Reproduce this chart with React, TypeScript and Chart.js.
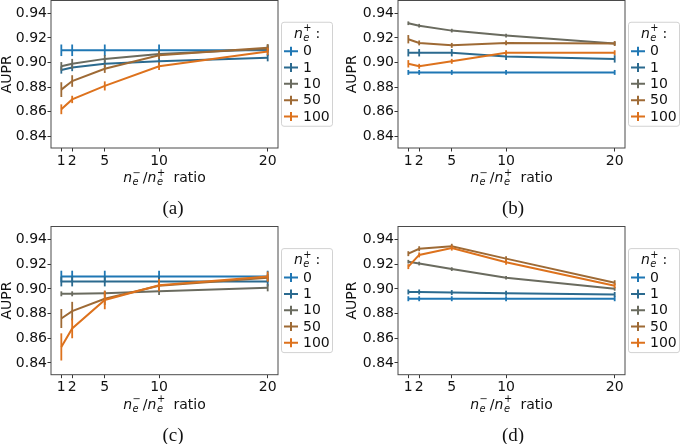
import React, { useEffect, useRef } from "react";
import { Chart, registerables } from "chart.js";

Chart.register(...registerables);

// ---------- data ----------
const xRatios = [1, 2, 5, 10, 20];
const xTickValues = [1, 2, 5, 10, 20];
const yTickValues = [0.84, 0.86, 0.88, 0.9, 0.92, 0.94];
const seriesLabels = ["0", "1", "10", "50", "100"];
const panelCaptions = ["(a)", "(b)", "(c)", "(d)"];

// panel (a)
const a0 = [0.910, 0.910, 0.910, 0.910, 0.910];
const a1 = [0.894, 0.896, 0.899, 0.901, 0.904];
const a10 = [0.897, 0.899, 0.903, 0.907, 0.911];
const a50 = [0.878, 0.885, 0.895, 0.906, 0.912];
const a100 = [0.862, 0.870, 0.881, 0.897, 0.909];
const a0Err = [0.0047, 0.0047, 0.0047, 0.0047, 0.0047];
const a1Err = [0.003, 0.003, 0.003, 0.003, 0.003];
const a10Err = [0.0034, 0.004, 0.003, 0.003, 0.003];
const a50Err = [0.006, 0.0047, 0.0034, 0.003, 0.003];
const a100Err = [0.004, 0.003, 0.0037, 0.003, 0.003];

// panel (b)
const b0 = [0.892, 0.892, 0.892, 0.892, 0.892];
const b1 = [0.908, 0.908, 0.908, 0.905, 0.903];
const b10 = [0.932, 0.930, 0.926, 0.922, 0.9155];
const b50 = [0.919, 0.916, 0.914, 0.916, 0.9155];
const b100 = [0.899, 0.897, 0.901, 0.908, 0.908];
const b0Err = [0.002, 0.002, 0.002, 0.002, 0.002];
const b1Err = [0.003, 0.003, 0.003, 0.003, 0.003];
const b10Err = [0.0015, 0.0015, 0.0015, 0.0015, 0.0015];
const b50Err = [0.0034, 0.002, 0.002, 0.002, 0.002];
const b100Err = [0.003, 0.002, 0.002, 0.002, 0.002];

// panel (c)
const c0 = [0.910, 0.910, 0.910, 0.910, 0.910];
const c1 = [0.906, 0.906, 0.906, 0.906, 0.906];
const c10 = [0.896, 0.896, 0.8965, 0.898, 0.901];
const c50 = [0.876, 0.882, 0.892, 0.9025, 0.909];
const c100 = [0.853, 0.868, 0.891, 0.903, 0.910];
const c0Err = [0.0047, 0.0047, 0.0047, 0.0047, 0.0047];
const c1Err = [0.004, 0.004, 0.004, 0.004, 0.004];
const c10Err = [0.002, 0.002, 0.002, 0.003, 0.003];
const c50Err = [0.0077, 0.0075, 0.005, 0.004, 0.003];
const c100Err = [0.011, 0.008, 0.0075, 0.005, 0.004];

// panel (d)
const d0 = [0.892, 0.892, 0.892, 0.892, 0.892];
const d1 = [0.8975, 0.8975, 0.897, 0.8965, 0.8955];
const d10 = [0.922, 0.9205, 0.916, 0.909, 0.900];
const d50 = [0.9285, 0.9325, 0.9345, 0.9245, 0.905];
const d100 = [0.918, 0.9275, 0.933, 0.9215, 0.9025];
const d0Err = [0.002, 0.002, 0.002, 0.002, 0.002];
const d1Err = [0.002, 0.002, 0.002, 0.002, 0.002];
const d10Err = [0.0015, 0.0015, 0.0015, 0.0015, 0.0015];
const d50Err = [0.002, 0.002, 0.002, 0.002, 0.002];
const d100Err = [0.002, 0.002, 0.002, 0.002, 0.002];

const panelValues = [
  [a0, a1, a10, a50, a100],
  [b0, b1, b10, b50, b100],
  [c0, c1, c10, c50, c100],
  [d0, d1, d10, d50, d100],
];
const panelErrors = [
  [a0Err, a1Err, a10Err, a50Err, a100Err],
  [b0Err, b1Err, b10Err, b50Err, b100Err],
  [c0Err, c1Err, c10Err, c50Err, c100Err],
  [d0Err, d1Err, d10Err, d50Err, d100Err],
];

// ---------- styles / layout ----------
const seriesColors = ["#1f77b4", "#2b6a8f", "#6a6b5f", "#9e6a35", "#dd721d"];
const FONT = "'DejaVu Sans', sans-serif";
const FS = 14;
const TEXT = "#111";
const CW = 340;
const CH = 222;

const placements = [
  { x: 0, y: 0, area: { left: 51, right: 278, top: 0.5, bottom: 148 }, yTitlePad: -1.5 },
  { x: 340, y: 0, area: { left: 58, right: 285, top: 0.5, bottom: 148 }, yTitlePad: 4 },
  { x: 0, y: 222, area: { left: 51, right: 278, top: 4.5, bottom: 152.7 }, yTitlePad: -1.5 },
  { x: 340, y: 222, area: { left: 58, right: 285, top: 4.5, bottom: 152.7 }, yTitlePad: 4 },
];

type MathPart = { text: string; italic?: boolean; sub?: string; sup?: string; gap?: number };

const xTitleParts: MathPart[] = [
  { text: "n", italic: true, sub: "e", sup: "\u2212", gap: 2.5 },
  { text: "/" },
  { text: "n", italic: true, sub: "e", sup: "+" },
  { text: "  ratio" },
];
const legendTitleParts: MathPart[] = [
  { text: "n", italic: true, sub: "e", sup: "+" },
  { text: " :" },
];

function setFont(ctx: CanvasRenderingContext2D, size: number, italic?: boolean) {
  ctx.font = `${italic ? "italic " : ""}${size}px ${FONT}`;
}

function mathWidth(ctx: CanvasRenderingContext2D, parts: MathPart[], size: number) {
  let w = 0;
  const small = size * 0.7;
  for (const p of parts) {
    setFont(ctx, size, p.italic);
    w += ctx.measureText(p.text).width;
    let sw = 0;
    if (p.sub) {
      setFont(ctx, small, true);
      sw = Math.max(sw, ctx.measureText(p.sub).width);
    }
    if (p.sup) {
      setFont(ctx, small, false);
      sw = Math.max(sw, ctx.measureText(p.sup).width);
    }
    w += sw + (p.gap || 0);
  }
  return w;
}

function drawMath(ctx: CanvasRenderingContext2D, parts: MathPart[], cx: number, cy: number, size: number) {
  const small = size * 0.7;
  const total = mathWidth(ctx, parts, size);
  let x = cx - total / 2;
  const base = cy + size * 0.36;
  ctx.save();
  ctx.fillStyle = TEXT;
  ctx.textAlign = "left";
  ctx.textBaseline = "alphabetic";
  for (const p of parts) {
    setFont(ctx, size, p.italic);
    ctx.fillText(p.text, x, base);
    x += ctx.measureText(p.text).width;
    let sw = 0;
    if (p.sub) {
      setFont(ctx, small, true);
      ctx.fillText(p.sub, x + 0.5, base + size * 0.22);
      sw = Math.max(sw, ctx.measureText(p.sub).width);
    }
    if (p.sup) {
      setFont(ctx, small, false);
      ctx.fillText(p.sup, x + 0.5, base - size * 0.45);
      sw = Math.max(sw, ctx.measureText(p.sup).width);
    }
    x += sw + (p.gap || 0);
  }
  ctx.restore();
}

function makeDecor(idx: number) {
  return {
    id: "decor" + idx,
    afterDatasetDraw(chart: any, args: any) {
      const i = args.index;
      const errs = panelErrors[idx][i];
      const vals = panelValues[idx][i];
      const ys = chart.scales.y;
      const xs = chart.scales.x;
      const ctx: CanvasRenderingContext2D = chart.ctx;
      ctx.save();
      ctx.strokeStyle = seriesColors[i];
      ctx.lineWidth = 1.8;
      xRatios.forEach((xv, j) => {
        const px = xs.getPixelForValue(xv);
        const y1 = ys.getPixelForValue(vals[j] - errs[j]);
        const y2 = ys.getPixelForValue(vals[j] + errs[j]);
        ctx.beginPath();
        ctx.moveTo(px, y1);
        ctx.lineTo(px, y2);
        ctx.stroke();
      });
      ctx.restore();
    },
    afterDraw(chart: any) {
      const ctx: CanvasRenderingContext2D = chart.ctx;
      const ca = chart.chartArea;
      // frame
      ctx.save();
      ctx.strokeStyle = "#4a4a4a";
      ctx.lineWidth = 1;
      ctx.strokeRect(ca.left, ca.top, ca.right - ca.left, ca.bottom - ca.top);
      ctx.restore();

      // legend
      const bw = 51;
      const bh = 104;
      const bx = ca.right + 3.5;
      const by = (ca.top + ca.bottom) / 2 - bh / 2;
      ctx.save();
      ctx.fillStyle = "rgba(255,255,255,0.9)";
      ctx.strokeStyle = "#d2d2d2";
      ctx.lineWidth = 1;
      ctx.beginPath();
      (ctx as any).roundRect(bx, by, bw, bh, 2.5);
      ctx.fill();
      ctx.stroke();
      ctx.restore();
      drawMath(ctx, legendTitleParts, bx + bw / 2, by + 10.5, FS);
      seriesLabels.forEach((lab, i) => {
        const y = by + 29 + i * 16.3;
        ctx.save();
        ctx.strokeStyle = seriesColors[i];
        ctx.lineWidth = 2;
        ctx.beginPath();
        ctx.moveTo(bx + 2.5, y);
        ctx.lineTo(bx + 16.5, y);
        ctx.moveTo(bx + 9.5, y - 4.5);
        ctx.lineTo(bx + 9.5, y + 4.5);
        ctx.stroke();
        ctx.fillStyle = TEXT;
        setFont(ctx, FS);
        ctx.textAlign = "left";
        ctx.textBaseline = "middle";
        ctx.fillText(lab, bx + 21.5, y + 0.5);
        ctx.restore();
      });

      // x-axis title
      drawMath(ctx, xTitleParts, (ca.left + ca.right) / 2, ca.bottom + 29, FS);

      // caption
      ctx.save();
      ctx.fillStyle = TEXT;
      ctx.font = `19px 'Liberation Serif', 'DejaVu Serif', serif`;
      ctx.textAlign = "center";
      ctx.textBaseline = "middle";
      ctx.fillText(panelCaptions[idx], 173, ca.bottom + 61);
      ctx.restore();
    },
  };
}

function buildConfig(idx: number): any {
  const pl = placements[idx];
  const area = pl.area;
  const xAxisH = 30;
  const datasets = seriesLabels.map((lab, i) => ({
    label: lab,
    data: xRatios.map((x, j) => ({ x, y: panelValues[idx][i][j] })),
    borderColor: seriesColors[i],
    backgroundColor: seriesColors[i],
    borderWidth: 2,
    pointRadius: 0,
    pointHoverRadius: 0,
    tension: 0,
    fill: false,
    order: seriesLabels.length - 1 - i,
  }));
  const tickGrid = {
    drawOnChartArea: false,
    drawTicks: true,
    tickLength: 3.5,
    color: "#333",
    lineWidth: 1,
  };
  return {
    type: "line",
    data: { datasets },
    options: {
      responsive: false,
      animation: false,
      events: [],
      layout: {
        padding: {
          left: 0,
          top: area.top,
          right: CW - area.right,
          bottom: CH - area.bottom - xAxisH,
        },
      },
      plugins: {
        legend: { display: false },
        tooltip: { enabled: false },
        title: { display: false },
      },
      scales: {
        x: {
          type: "linear",
          min: 0.05,
          max: 20.95,
          afterBuildTicks: (s: any) => {
            s.ticks = xTickValues.map((v) => ({ value: v }));
          },
          afterFit: (s: any) => {
            s.height = xAxisH;
            s.paddingLeft = 0;
            s.paddingRight = 0;
            s.paddingTop = 0;
            s.paddingBottom = 0;
          },
          ticks: {
            font: { family: FONT, size: FS },
            color: TEXT,
            padding: 1,
            autoSkip: false,
            maxRotation: 0,
            minRotation: 0,
            callback: (v: any) => String(v),
          },
          grid: tickGrid,
          border: { display: false },
        },
        y: {
          type: "linear",
          min: 0.8305,
          max: 0.9505,
          afterBuildTicks: (s: any) => {
            s.ticks = yTickValues.map((v) => ({ value: v }));
          },
          afterFit: (s: any) => {
            s.width = area.left;
            s.paddingLeft = 0;
            s.paddingRight = 0;
            s.paddingTop = 0;
            s.paddingBottom = 0;
          },
          ticks: {
            font: { family: FONT, size: FS },
            color: TEXT,
            padding: 0.5,
            callback: (v: any) => Number(v).toFixed(2),
          },
          grid: tickGrid,
          border: { display: false },
          title: {
            display: true,
            text: "AUPR",
            font: { family: FONT, size: FS },
            color: TEXT,
            padding: { top: pl.yTitlePad, bottom: 0 },
          },
        },
      },
    },
    plugins: [makeDecor(idx)],
  };
}

function Panel({ idx }: { idx: number }) {
  const ref = useRef<HTMLCanvasElement>(null);
  useEffect(() => {
    if (!ref.current) return;
    const chart = new Chart(ref.current, buildConfig(idx));
    return () => chart.destroy();
  }, [idx]);
  const pl = placements[idx];
  return (
    <canvas
      ref={ref}
      width={CW}
      height={CH}
      style={{ position: "absolute", left: pl.x, top: pl.y, width: CW, height: CH }}
    />
  );
}

export default function App() {
  return (
    <div
      style={{
        position: "fixed",
        left: 0,
        top: 0,
        width: 680,
        height: 444,
        background: "#fff",
        overflow: "hidden",
      }}
    >
      {placements.map((_, k) => (
        <Panel key={k} idx={k} />
      ))}
    </div>
  );
}
